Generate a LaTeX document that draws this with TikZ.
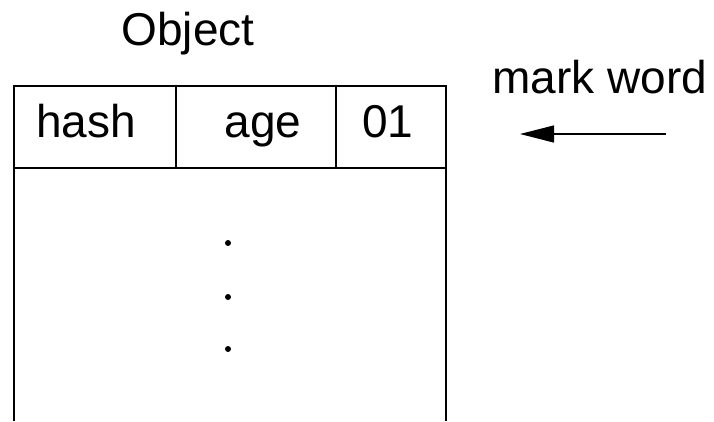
\documentclass[tikz,border=0pt]{standalone}
\usepackage{fontspec}
\setmainfont{Liberation Sans}
\usetikzlibrary{arrows.meta}
\begin{document}
\begin{tikzpicture}[x=1pt,y=-1pt,
  frame/.style={line width=1.3pt,black},
  label/.style={anchor=base,inner sep=0pt,font=\fontsize{46}{50}\selectfont},
  dotmark/.style={fill=black,circle,inner sep=0pt,minimum size=6pt}]
  \useasboundingbox (0,0) rectangle (714,421);
  % object frame, open at the bottom
  \coordinate (tl) at (14,86);
  \coordinate (tr) at (446,86);
  \coordinate (bl) at (14,421);
  \coordinate (br) at (446,421);
  \draw[frame] (bl) -- (tl) -- (tr) -- (br);
  % mark word row
  \coordinate (rl) at (14,168);
  \coordinate (rr) at (446,168);
  \draw[frame] (rl) -- (rr);
  \coordinate (c1t) at (176,86);
  \coordinate (c1b) at (176,168);
  \coordinate (c2t) at (336,86);
  \coordinate (c2b) at (336,168);
  \draw[frame] (c1t) -- (c1b);
  \draw[frame] (c2t) -- (c2b);
  % labels
  \node[label] (obj) at (188,45) {Object};
  \node[label] (hash) at (86,137) {hash};
  \node[label] (age) at (263,137) {age};
  \node[label] (flag) at (388,137) {01};
  \node[label] (mw) at (600,93) {mark word};
  % remaining fields
  \node[dotmark] (d1) at (228,243) {};
  \node[dotmark] (d2) at (228,297) {};
  \node[dotmark] (d3) at (228,349) {};
  % pointer to the header word
  \coordinate (as) at (666,134);
  \coordinate (ae) at (520,134);
  \draw[line width=1.3pt,-{Triangle[length=34pt,width=17pt]}] (as) -- (ae);
\end{tikzpicture}
\end{document}
